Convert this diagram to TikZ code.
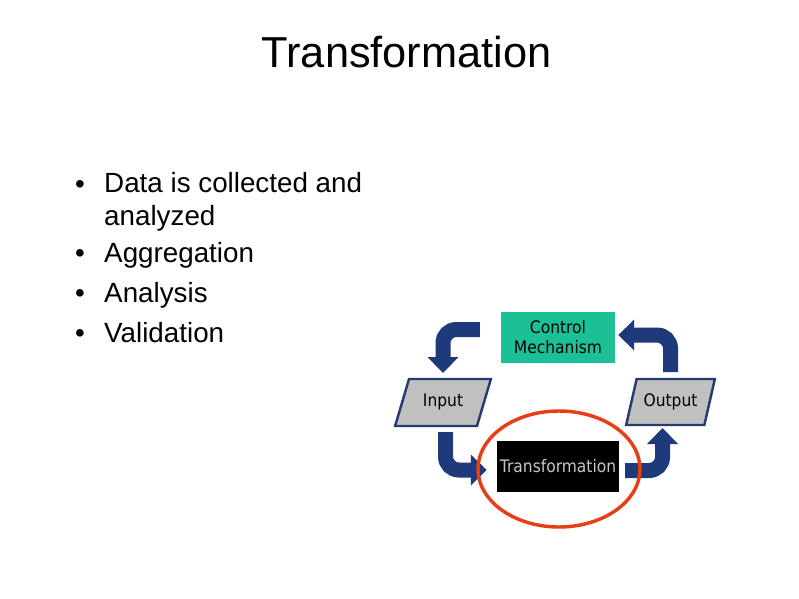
\documentclass[tikz,border=0pt]{standalone}
\usepackage{fontspec}
\setmainfont{Liberation Sans}
\newfontfamily\diagfont[FakeStretch=0.9]{DejaVu Sans}
\usetikzlibrary{shapes.geometric,arrows.meta}

\definecolor{flowblue}{RGB}{31,58,122}
\definecolor{ctrlgreen}{RGB}{28,192,150}
\definecolor{boxgray}{RGB}{192,192,192}
\definecolor{edgeblue}{RGB}{38,60,110}
\definecolor{ringred}{RGB}{232,62,22}

\tikzset{
  bullet/.style={anchor=base west, font=\fontsize{25}{29.7}\selectfont, align=left, inner sep=0pt},
  io/.style={trapezium, trapezium left angle=63, trapezium right angle=117, trapezium stretches,
    fill=boxgray, draw=edgeblue, line width=2.2pt, inner sep=0pt,
    font=\diagfont\fontsize{15.5}{18}\selectfont},
  stage/.style={rectangle, inner sep=0pt, align=center, font=\diagfont\fontsize{15.5}{18}\selectfont},
  flow/.style={flowblue, line width=13.5pt, rounded corners=12pt, -{Triangle[width=27pt,length=14.4pt]}},
}

\begin{document}
\begin{tikzpicture}[x=0.9pt,y=-0.9pt]

% ── Page ──
\useasboundingbox[fill=white] (0,0) rectangle (799,598);

% ── Title ──
\node[font=\fontsize{39}{47}\selectfont, anchor=base] (title) at (406.5,67) {Transformation};

% ── Bullet list (text y = last baseline, dot y = first baseline) ──
\foreach \i/\y/\d/\t in {1/225/193/{Data is collected and\\analyzed}, 2/262/262/Aggregation, 3/302/302/Analysis, 4/342/342/Validation} {
  \node[bullet] (item\i) at (104,\y) {\t};
  \node[bullet] (dot\i) at (75,\d) {\textbullet};
}

% ── Process boxes ──
\node[stage, fill=ctrlgreen, minimum width=102.6pt, minimum height=45.9pt] (ctrl) at (558,337.5) {Control\\Mechanism};
\node[stage, fill=black, text=black!22, minimum width=109.8pt, minimum height=45.9pt] (trans) at (558,466.5) {Transformation};
\node[io, minimum width=86.4pt, minimum height=42.3pt] (in) at (443,402.5) {Input};
\node[io, minimum width=80.1pt, minimum height=41.4pt] (out) at (670.5,402) {Output};

% ── Feedback loop ──
\draw[flow] ([xshift=-18.9pt,yshift=7.2pt]ctrl.west) -| ([yshift=26.5pt]in.center);
\draw[flow] ([xshift=2.25pt,yshift=-26.55pt]in.center) |- ([xshift=-9pt,yshift=-3.15pt]trans.west);
\draw[flow] ([xshift=5.4pt,yshift=-3.6pt]trans.east) -| ([xshift=-7.2pt,yshift=-23.4pt]out.center);
\draw[flow] ([yshift=27pt]out.center) |- ([xshift=2.7pt,yshift=2.25pt]ctrl.east);

% ── Highlight ──
\node[ellipse, draw=ringred, line width=3.1pt, inner sep=0pt, minimum width=145.8pt, minimum height=104.4pt] (ring) at (559,469) {};

\end{tikzpicture}
\end{document}
